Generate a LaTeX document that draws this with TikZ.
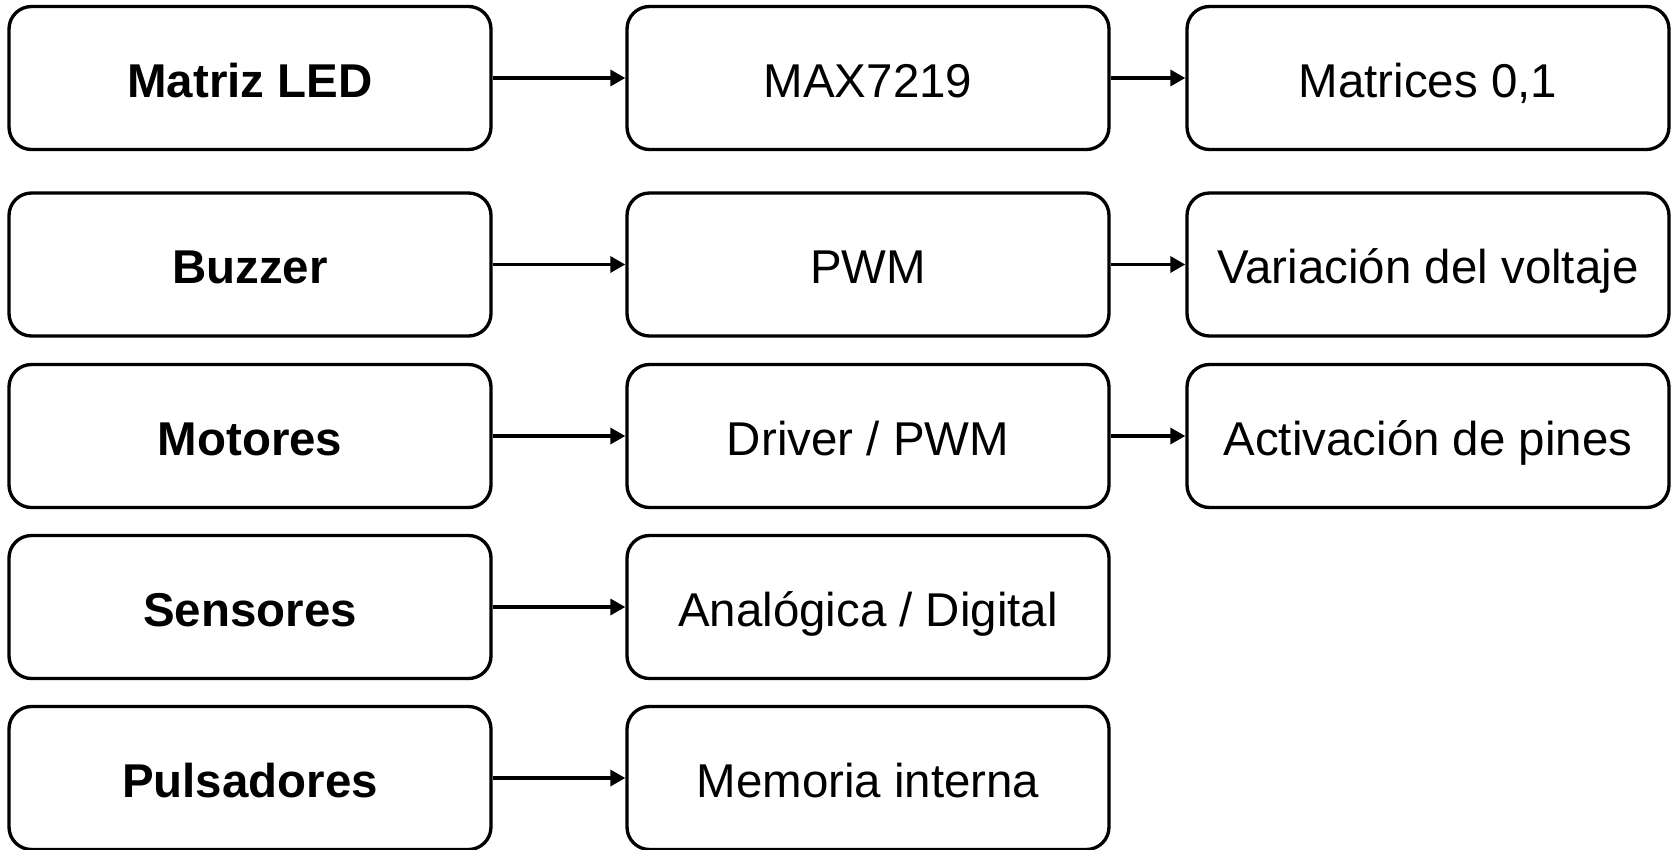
\documentclass[tikz,border=0pt]{standalone}
\usepackage{fontspec}
\setmainfont{Liberation Sans}
\usetikzlibrary{arrows.meta}

\begin{document}
\begin{tikzpicture}[
		block/.style = {draw, line width = 1.9pt, rounded corners = 0.45cm, minimum width = 9.64cm, minimum height = 2.86cm, inner sep = 0pt, text height = 0.96cm, text depth = 0.2cm, font = \fontsize{27}{32}\selectfont},
		source/.style = {block, font = \fontsize{27}{32}\selectfont\bfseries},
		link/.style = {line width = 1.9pt, -{Triangle[length = 0.3cm, width = 0.32cm]}}
	]
			\def\xa{5.0};
			\def\xb{17.36};
			\def\xc{28.56};

			\useasboundingbox (0,0) rectangle (33.5,-17);

			\begin{scope}
				\node [source] (matriz) at (\xa,-1.56) {Matriz LED};
				\node [source] (buzzer) at (\xa,-5.29) {Buzzer};
				\node [source] (motores) at (\xa,-8.72) {Motores};
				\node [source] (sensores) at (\xa,-12.14) {Sensores};
				\node [source] (pulsadores) at (\xa,-15.56) {Pulsadores};
			\end{scope}

			\begin{scope}
				\node [block] (max) at (\xb,-1.56) {MAX7219};
				\node [block] (pwm) at (\xb,-5.29) {PWM};
				\node [block] (driver) at (\xb,-8.72) {Driver / PWM};
				\node [block] (lectura) at (\xb,-12.14) {Analógica / Digital};
				\node [block] (memoria) at (\xb,-15.56) {Memoria interna};
			\end{scope}

			\begin{scope}
				\node [block] (matrices) at (\xc,-1.56) {Matrices 0,1};
				\node [block] (voltaje) at (\xc,-5.29) {Variación del voltaje};
				\node [block] (pines) at (\xc,-8.72) {Activación de pines};
			\end{scope}

			\begin{scope}
				\draw [link] (matriz) -- (max);
				\draw [link] (buzzer) -- (pwm);
				\draw [link] (motores) -- (driver);
				\draw [link] (sensores) -- (lectura);
				\draw [link] (pulsadores) -- (memoria);

				\draw [link] (max) -- (matrices);
				\draw [link] (pwm) -- (voltaje);
				\draw [link] (driver) -- (pines);
			\end{scope}
		\end{tikzpicture}
\end{document}
